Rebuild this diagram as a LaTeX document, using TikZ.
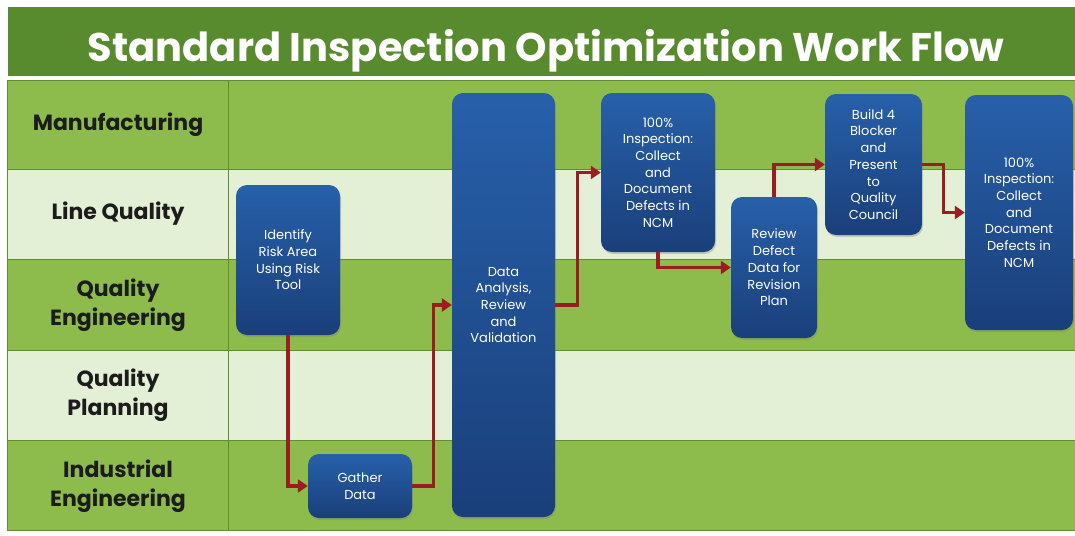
\documentclass[tikz,border=0pt]{standalone}
\usepackage{fontspec}
\setmainfont{Poppins}
\usetikzlibrary{arrows.meta,shadows}

\definecolor{titlegreen}{HTML}{588B2E}
\definecolor{rowgreen}{HTML}{8DBC4C}
\definecolor{rowpale}{HTML}{E3F0D6}
\definecolor{gridline}{HTML}{5F8E31}
\definecolor{boxtop}{HTML}{2760AA}
\definecolor{boxbottom}{HTML}{1A3F7A}
\definecolor{flowred}{HTML}{9B1D22}
\definecolor{labelink}{HTML}{1C1C1C}

\begin{document}
\begin{tikzpicture}[x=1pt,y=-1pt,
  stepbox/.style={rounded corners=11pt, top color=boxtop, bottom color=boxbottom,
    text=white, align=center, inner sep=0pt,
    font=\fontsize{13}{16.7}\selectfont,
    drop shadow={shadow xshift=1pt, shadow yshift=-2pt, opacity=0.35}},
  lane/.style={font=\bfseries\fontsize{22}{28.5}\selectfont, text=labelink, align=center},
  flow/.style={draw=flowred, line width=3.2pt, line join=miter,
    -{Triangle[length=10pt,width=13pt]}}
]
\useasboundingbox (0,0) rectangle (1075,535);

% title band
\fill[titlegreen] (8,7) rectangle (1075,76);
\node[font=\bfseries\fontsize{40}{44}\selectfont, text=white, anchor=base]
  (title) at (546,62) {Standard Inspection Optimization Work Flow};

% swim lanes
\fill[rowgreen] (7,80)  rectangle (1075,169);
\fill[rowpale]  (7,169) rectangle (1075,259);
\fill[rowgreen] (7,259) rectangle (1075,350);
\fill[rowpale]  (7,350) rectangle (1075,440);
\fill[rowgreen] (7,440) rectangle (1075,530);
\draw[gridline, line width=0.9pt]
  (7,80) -- (1075,80)
  (7,169) -- (1075,169)
  (7,259) -- (1075,259)
  (7,350) -- (1075,350)
  (7,440) -- (1075,440)
  (7,530) -- (1075,530)
  (7,80) -- (7,530)
  (228,80) -- (228,530);

\node[lane] (manuf) at (118,125) {Manufacturing};
\node[lane] (lineq) at (118,214) {Line Quality};
\node[lane] (qeng)  at (118,305) {Quality\\Engineering};
\node[lane] (qplan) at (118,395) {Quality\\Planning};
\node[lane] (ieng)  at (118,486) {Industrial\\Engineering};

% process steps
\node[stepbox, minimum width=104pt, minimum height=150pt] (idrisk) at (288,260)
  {Identify\\Risk Area\\Using Risk\\Tool};
\node[stepbox, minimum width=104pt, minimum height=64pt] (gather) at (360,486)
  {Gather\\Data};
\node[stepbox, minimum width=103pt, minimum height=424pt] (data) at (503.5,305)
  {Data\\Analysis,\\Review\\and\\Validation};
\node[stepbox, minimum width=114pt, minimum height=159pt] (insp1) at (658,172.5)
  {100\%\\Inspection:\\Collect\\and\\Document\\Defects in\\NCM};
\node[stepbox, minimum width=86pt, minimum height=141pt] (review) at (774,267.5)
  {Review\\Defect\\Data for\\Revision\\Plan};
\node[stepbox, minimum width=97pt, minimum height=141pt] (build) at (873.5,164.5)
  {Build 4\\Blocker\\and\\Present\\to\\Quality\\Council};
\node[stepbox, minimum width=108pt, minimum height=235pt] (insp2) at (1019,212.5)
  {100\%\\Inspection:\\Collect\\and\\Document\\Defects in\\NCM};

% connectors
\draw[flow] (idrisk.south) |- (gather.west);
\draw[flow] (gather.east) -- ++(21,0) |- (data.west);
\draw[flow] (data.east) -- ++(22,0) |- (insp1.west);
\draw[flow] (insp1.south) |- (review.west);
\draw[flow] (review.north) |- (build.west);
\draw[flow] (build.east) -- ++(21,0) |- (insp2.west);
\end{tikzpicture}
\end{document}
